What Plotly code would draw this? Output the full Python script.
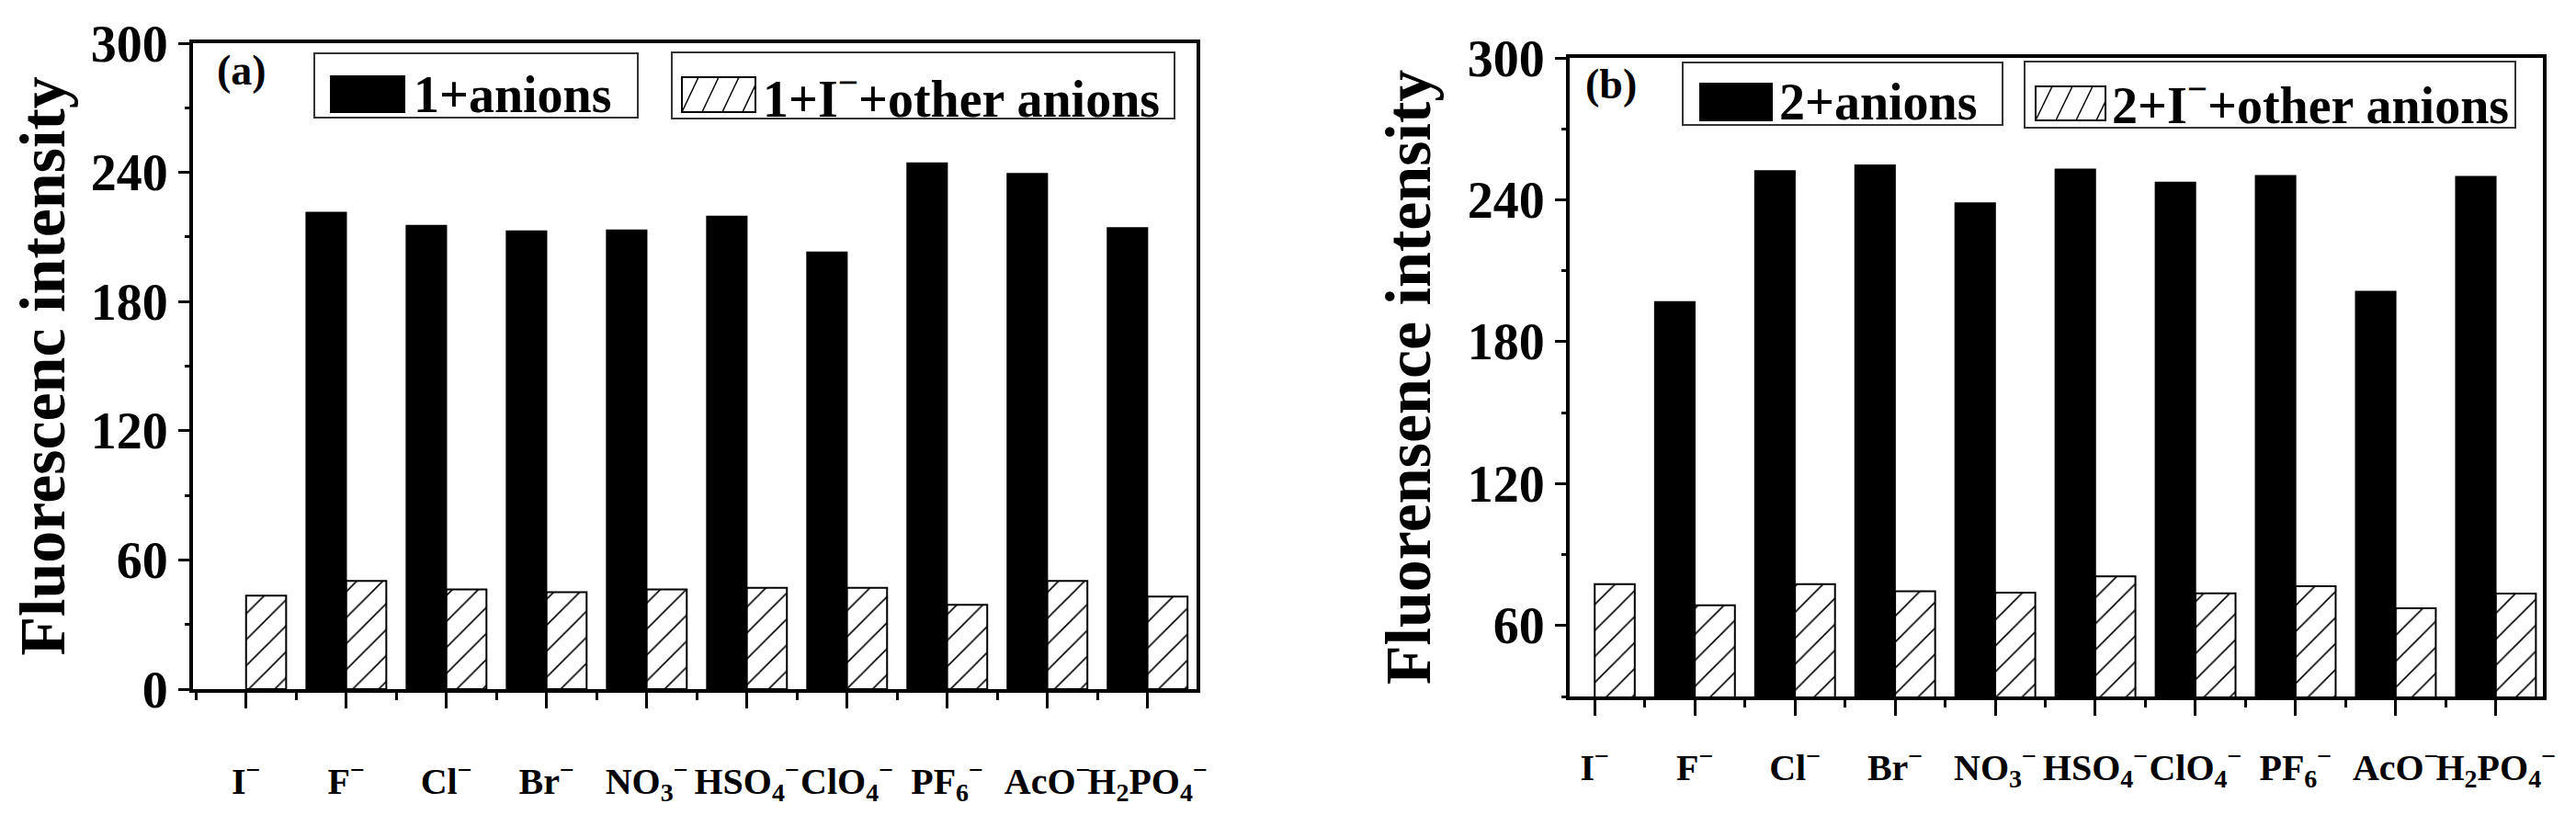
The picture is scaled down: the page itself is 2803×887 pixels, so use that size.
import plotly.graph_objects as go

# Anion labels (x axis) and fluorescence intensities
anions = ["I<sup>−</sup>", "F<sup>−</sup>", "Cl<sup>−</sup>", "Br<sup>−</sup>",
          "NO<sub>3</sub><sup>−</sup>", "HSO<sub>4</sub><sup>−</sup>",
          "ClO<sub>4</sub><sup>−</sup>", "PF<sub>6</sub><sup>−</sup>",
          "AcO<sup>−</sup>", "H<sub>2</sub>PO<sub>4</sub><sup>−</sup>"]
idx = list(range(1, len(anions) + 1))

# panel (a): compound 1
fl1_anions = [None, 221.4, 215.3, 212.7, 213.2, 219.6, 202.9, 244.3, 239.4, 214.2]
fl1_iodide = [43.4, 50.3, 46.3, 45.0, 46.3, 47.0, 47.0, 39.2, 50.3, 43.0]

# panel (b): compound 2
fl2_anions = [None, 196.9, 252.2, 254.6, 238.6, 252.9, 247.4, 250.2, 201.2, 249.8]
fl2_iodide = [77.5, 68.6, 77.5, 74.5, 73.9, 80.8, 73.6, 76.6, 67.3, 73.5]

W, H = 2803, 887
FONT = "Liberation Serif"


def px(x, y):
    # pixel position -> paper coords
    return x / W, 1 - y / H


def solid_bar(x, y, xa, ya):
    return go.Bar(x=x, y=y, xaxis=xa, yaxis=ya, showlegend=False,
                  marker=dict(color="black", line=dict(color="black", width=1.5)))


def hatch_bar(x, y, xa, ya):
    return go.Bar(x=x, y=y, xaxis=xa, yaxis=ya, showlegend=False,
                  marker=dict(color="white", line=dict(color="black", width=2),
                              pattern=dict(shape="/", size=20, solidity=0.08,
                                           fgcolor="black", bgcolor="white",
                                           fillmode="replace")))


fig = go.Figure()
fig.add_trace(solid_bar(idx, fl1_anions, "x", "y"))
fig.add_trace(hatch_bar(idx, fl1_iodide, "x", "y"))
fig.add_trace(solid_bar(idx, fl2_anions, "x2", "y2"))
fig.add_trace(hatch_bar(idx, fl2_iodide, "x2", "y2"))

xcommon = dict(tickmode="array", tickvals=idx, ticktext=anions, tickangle=0,
               automargin=False,
               showline=True, linewidth=4, linecolor="black", mirror=True,
               ticks="outside", ticklen=17, tickwidth=3, tickcolor="black",
               minor=dict(tick0=0.5, dtick=1, ticks="outside", ticklen=8,
                          tickwidth=3, tickcolor="black"),
               showgrid=False, zeroline=False,
               tickfont=dict(family=FONT, size=40, color="black", weight="bold"))
ycommon = dict(showline=True, linewidth=4, linecolor="black", mirror=True,
               automargin=False,
               ticks="outside", ticklen=12, tickwidth=3, tickcolor="black",
               dtick=60,
               minor=dict(dtick=30, ticks="outside", ticklen=5, tickwidth=3,
                          tickcolor="black"),
               showgrid=False, zeroline=False,
               tickfont=dict(family=FONT, size=56, color="black", weight="bold"))

fig.update_layout(
    width=W, height=H,
    margin=dict(l=0, r=0, t=0, b=0),
    paper_bgcolor="white", plot_bgcolor="white",
    barmode="group", bargap=0.2, bargroupgap=0,
    xaxis=dict(xcommon, domain=[202 / W, 1294 / W], range=[0.47, 10.49],
               anchor="y", ticklabelstandoff=45),
    yaxis=dict(ycommon, domain=[1 - 742 / H, 1 - 39 / H], range=[0, 300],
               tick0=0, anchor="x",
               title=dict(text="Fluorescenc intensity", standoff=12,
                          font=dict(family=FONT, size=70, color="black", weight="bold"))),
    xaxis2=dict(xcommon, domain=[1700 / W, 2759 / W], range=[0.75, 10.47],
                anchor="y2", ticklabelstandoff=22),
    yaxis2=dict(ycommon, domain=[1 - 750 / H, 1 - 55 / H], range=[30, 300],
                tick0=0, anchor="x2",
                minor=dict(tick0=30, dtick=30, ticks="outside", ticklen=5,
                           tickwidth=3, tickcolor="black"),
                title=dict(text="Fluorensence intensity", standoff=18,
                           font=dict(family=FONT, size=70, color="black", weight="bold"))),
)

# hand-drawn legends (boxes, swatches, labels) and panel tags
shapes = []
annotations = []


def rect(x0, y0, x1, y1, fill=None, width=2, color="#333"):
    a0, b0 = px(x0, y1)
    a1, b1 = px(x1, y0)
    shapes.append(dict(type="rect", xref="paper", yref="paper",
                       x0=a0, y0=b0, x1=a1, y1=b1,
                       line=dict(color=color, width=width),
                       fillcolor=fill if fill else "rgba(0,0,0,0)"))


def hatch_swatch(x0, y0, x1, y1):
    rect(x0, y0, x1, y1, fill="white", width=2, color="black")
    h = y1 - y0
    step, lean = 22, 18
    k = 0
    while x0 + k * step < x1:
        sx, sy = x0 + k * step, y1
        ex, ey = sx + lean, y0
        if ex > x1:
            ey = y1 - h * (x1 - sx) / lean
            ex = x1
        a0, b0 = px(sx, sy)
        a1, b1 = px(ex, ey)
        shapes.append(dict(type="line", xref="paper", yref="paper",
                           x0=a0, y0=b0, x1=a1, y1=b1,
                           line=dict(color="black", width=1.5)))
        k += 1


def label(text, x, y, size, anchor="left"):
    a, b = px(x, y)
    annotations.append(dict(text=text, x=a, y=b, xref="paper", yref="paper",
                            xanchor=anchor, yanchor="middle", showarrow=False,
                            font=dict(family=FONT, size=size, color="black",
                                      weight="bold")))


# panel (a)
rect(334, 50, 686, 120)
rect(352, 75, 432, 114, fill="black", color="black")
label("1+anions", 440, 95, 56)
rect(723, 49, 1270, 121)
hatch_swatch(734, 76, 814, 114)
label("1+I<sup>−</sup>+other anions", 820, 95, 56)
label("(a)", 226, 68, 46)

# panel (b)
rect(1823, 60, 2171, 128)
rect(1842, 83, 1920, 123, fill="black", color="black")
label("2+anions", 1926, 103, 56)
rect(2195, 59, 2729, 131)
hatch_swatch(2207, 86, 2283, 123)
label("2+I<sup>−</sup>+other anions", 2288, 103, 56)
label("(b)", 1715, 84, 46)

fig.update_layout(shapes=shapes, annotations=annotations)

fig.write_html("out.html")
